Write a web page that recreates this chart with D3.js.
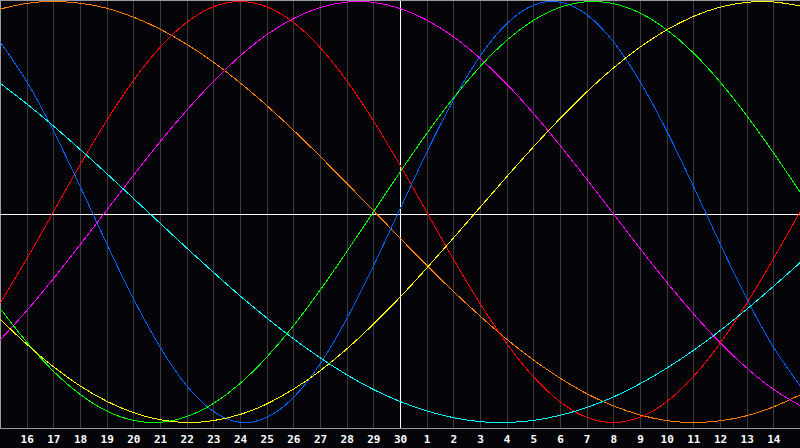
<!DOCTYPE html>
<html>
<head>
<meta charset="utf-8">
<script src="https://cdn.jsdelivr.net/npm/d3@7"></script>
<style>
  html, body { margin: 0; padding: 0; background: #050408; }
  svg { display: block; }
</style>
</head>
<body>
<svg id="chart" width="800" height="448"></svg>
<script>
// Day labels (index 0 and 30 are the chart edges)
const days = [15,16,17,18,19,20,21,22,23,24,25,26,27,28,29,30,1,2,3,4,5,6,7,8,9,10,11,12,13,14,15];

// Series values, one per day, scale -1..1
const blue = [0.809,0.620,0.386,0.123,-0.150,-0.411,-0.641,-0.825,-0.947,-0.999,-0.976,-0.882,-0.722,-0.508,-0.257,0.014,0.283,0.531,0.740,0.894,0.982,0.997,0.938,0.809,0.620,0.386,0.123,-0.150,-0.411,-0.641,-0.825];
const red = [-0.434,-0.223,0,0.223,0.434,0.624,0.782,0.901,0.975,1,0.975,0.901,0.782,0.624,0.434,0.223,0,-0.223,-0.434,-0.624,-0.782,-0.901,-0.975,-1,-0.975,-0.901,-0.782,-0.624,-0.434,-0.223,0];
const magenta = [-0.608,-0.469,-0.317,-0.156,0.008,0.173,0.333,0.483,0.620,0.741,0.842,0.919,0.971,0.997,0.996,0.967,0.912,0.833,0.730,0.608,0.469,0.317,0.156,-0.008,-0.173,-0.333,-0.483,-0.621,-0.741,-0.842,-0.919];
const green = [-0.458,-0.618,-0.756,-0.866,-0.945,-0.990,-0.999,-0.972,-0.910,-0.815,-0.690,-0.541,-0.372,-0.189,0,0.189,0.372,0.541,0.690,0.815,0.910,0.972,0.999,0.990,0.945,0.866,0.756,0.618,0.458,0.282,0.095];
const yellow = [-0.509,-0.628,-0.735,-0.826,-0.899,-0.953,-0.987,-1.000,-0.991,-0.962,-0.912,-0.842,-0.755,-0.651,-0.533,-0.405,-0.267,-0.124,0.022,0.167,0.309,0.444,0.570,0.684,0.783,0.865,0.929,0.973,0.996,0.998,0.979];
const cyan = [0.612,0.514,0.409,0.298,0.183,0.065,-0.053,-0.171,-0.286,-0.398,-0.503,-0.602,-0.692,-0.773,-0.843,-0.900,-0.945,-0.977,-0.996,-1.000,-0.990,-0.966,-0.929,-0.879,-0.816,-0.742,-0.658,-0.564,-0.462,-0.354,-0.241];
const orange = [0.964,0.991,1.000,0.992,0.968,0.926,0.869,0.797,0.712,0.614,0.506,0.389,0.265,0.137,0.007,-0.124,-0.253,-0.377,-0.494,-0.604,-0.703,-0.789,-0.863,-0.921,-0.964,-0.991,-1.000,-0.992,-0.968,-0.926,-0.869];

const seriesNames = ["orange","red","magenta","blue","green","yellow","cyan"];
const seriesColors = ["#ff8000","#ff0000","#ff00ff","#0060ff","#00ff00","#ffff00","#00ffff"];
const seriesValues = [orange, red, magenta, blue, green, yellow, cyan];

const W = 800, H = 448;
const svg = d3.select("#chart");

const x = d3.scaleLinear().domain([0, days.length - 1]).range([0, 800]);
const y = d3.scaleLinear().domain([-1, 1]).range([422.5, 1.5]);

svg.append("rect").attr("width", W).attr("height", H).attr("fill", "#050408");

// vertical grid lines
const gridIdx = d3.range(1, days.length - 1);
svg.append("g").selectAll("line").data(gridIdx).join("line")
  .attr("x1", d => Math.round(x(d)) + 0.5).attr("x2", d => Math.round(x(d)) + 0.5)
  .attr("y1", 0).attr("y2", 428)
  .attr("stroke", d => days[d] === 30 ? "#ffffff" : "#3c3c3c")
  .attr("stroke-width", 1);

// frame
svg.append("line").attr("x1", 0.5).attr("x2", 0.5).attr("y1", 0).attr("y2", 428.5).attr("stroke", "#9a9a9a");
svg.append("line").attr("x1", 0).attr("x2", 800).attr("y1", 0.5).attr("y2", 0.5).attr("stroke", "#9a9a9a");
svg.append("line").attr("x1", 0).attr("x2", 800).attr("y1", 428.5).attr("y2", 428.5).attr("stroke", "#9a9a9a");

// horizontal centre line
svg.append("line").attr("x1", 0).attr("x2", 800).attr("y1", 214.5).attr("y2", 214.5).attr("stroke", "#ffffff");

// curves
const line = d3.line().x((d, i) => x(i)).y(d => y(d)).curve(d3.curveNatural);
svg.append("g").selectAll("path").data(seriesValues).join("path")
  .attr("d", d => line(d))
  .attr("fill", "none")
  .attr("stroke", (d, i) => seriesColors[i])
  .attr("stroke-width", 1)
  .attr("shape-rendering", "crispEdges");

// re-draw white vertical line on top? (reference: curves over lines) - keep curves on top

// day labels
svg.append("g").selectAll("text").data(gridIdx).join("text")
  .attr("x", d => x(d) + 0.5)
  .attr("y", 443)
  .attr("text-anchor", "middle")
  .attr("fill", "#ffffff")
  .attr("font-family", "DejaVu Sans Mono, monospace")
  .attr("font-weight", "bold")
  .attr("font-size", "11px")
  .text(d => days[d]);
</script>
</body>
</html>
